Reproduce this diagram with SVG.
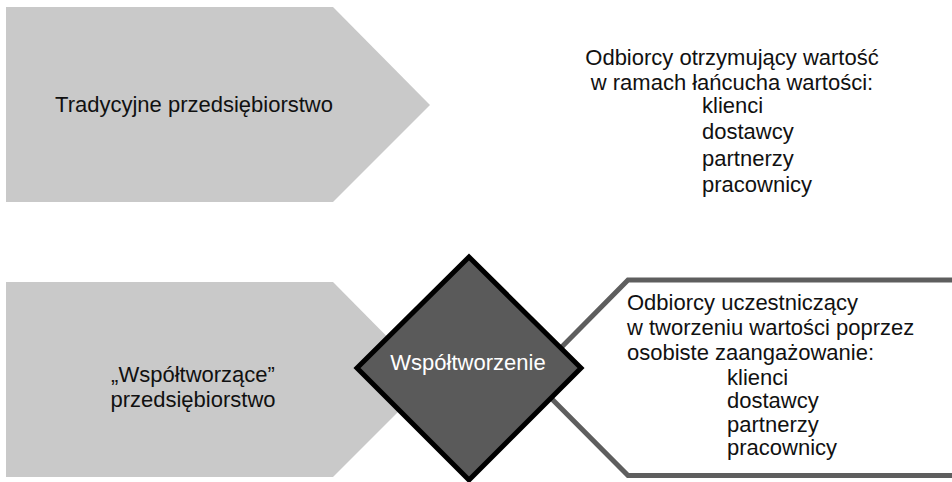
<svg xmlns="http://www.w3.org/2000/svg" width="952" height="482" viewBox="0 0 952 482">
<style>
text{font-family:"Liberation Sans",Arial,sans-serif;font-size:22px;fill:#111}
.light{fill:#c9c9c9}
.w{fill:#fff}
</style>
<rect width="952" height="482" fill="#fff"/>
<g id="traditional">
<polygon class="light" points="6,7 333,7 430,105 333,202 6,202"/>
<text x="194" y="112" text-anchor="middle">Tradycyjne przedsiębiorstwo</text>
</g>
<g id="traditional-recipients">
<text x="732" y="65" text-anchor="middle">Odbiorcy otrzymujący wartość</text>
<text x="732" y="90" text-anchor="middle">w ramach łańcucha wartości:</text>
<text x="702" y="113">klienci</text>
<text x="702" y="139">dostawcy</text>
<text x="702" y="166">partnerzy</text>
<text x="702" y="192">pracownicy</text>
</g>
<g id="cocreating">
<polygon class="light" points="6,282 333,282 430,380 333,477 6,477"/>
<text x="193" y="382" text-anchor="middle">„Współtworzące”</text>
<text x="193" y="407" text-anchor="middle">przedsiębiorstwo</text>
</g>
<g id="cocreation-recipients">
<polygon points="628,280 960,280 960,475.5 628,475.5 531,378" fill="#fff" stroke="#5e5e5e" stroke-width="5"/>
<text x="627" y="310">Odbiorcy uczestniczący</text>
<text x="627" y="335">w tworzeniu wartości poprzez</text>
<text x="627" y="360">osobiste zaangażowanie:</text>
<text x="727" y="385">klienci</text>
<text x="727" y="408">dostawcy</text>
<text x="727" y="432">partnerzy</text>
<text x="727" y="455">pracownicy</text>
</g>
<g id="cocreation">
<polygon points="469,257 581,368 469,480 357,368" fill="#5a5a5a" stroke="#000" stroke-width="5" stroke-linejoin="miter"/>
<text x="468" y="370" text-anchor="middle" class="w">Współtworzenie</text>
</g>
<g id="connectors"></g>
</svg>
